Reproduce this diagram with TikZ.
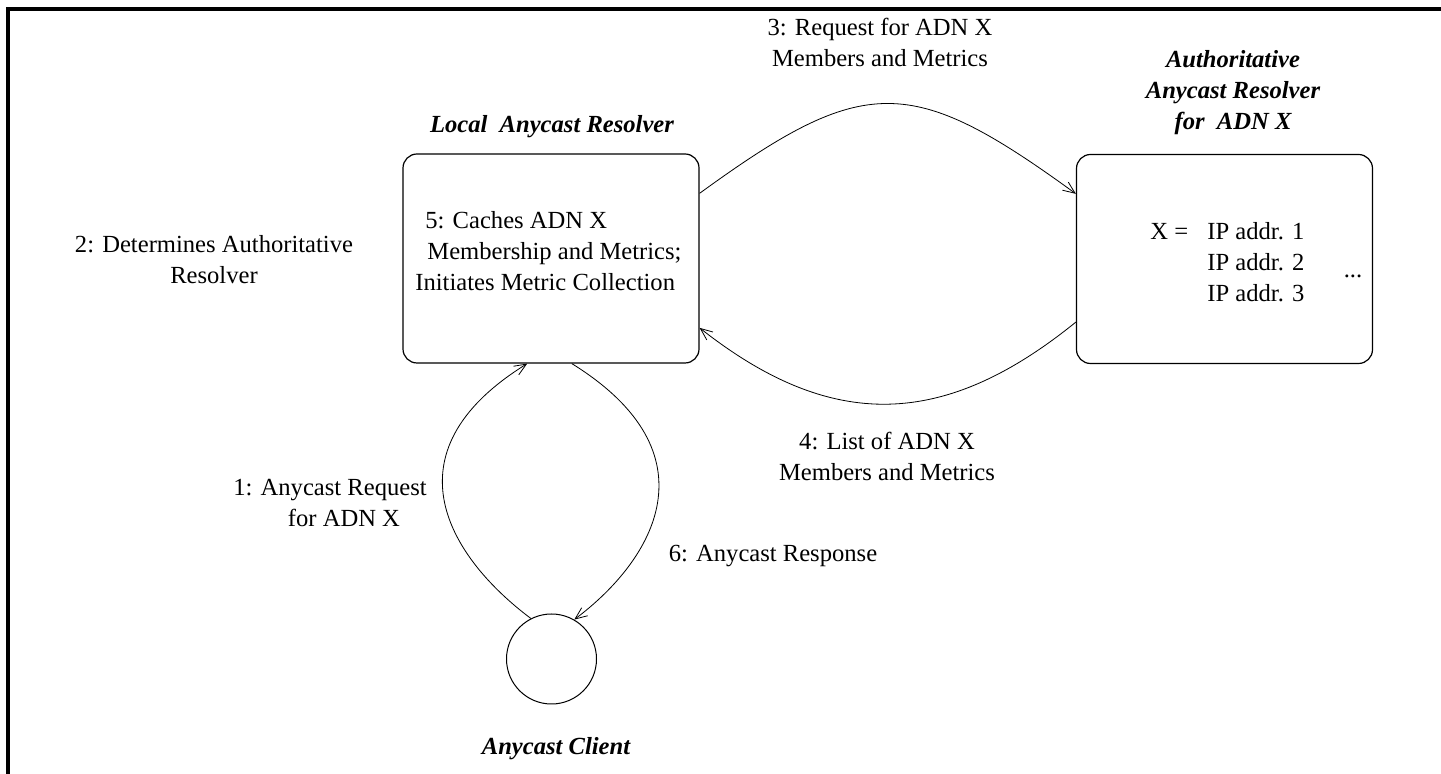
\documentclass[tikz,border=0pt]{standalone}
\usepackage{fontspec}
\setmainfont{Liberation Serif}
\usetikzlibrary{arrows.meta,calc}

\begin{document}
\begin{tikzpicture}[x=0.5pt,y=-0.5pt,
    >={Straight Barb[length=6pt,width=5pt]},
    box/.style={draw,rounded corners=7pt,minimum width=148pt,minimum height=104.5pt,line width=0.6pt},
    lbl/.style={font=\fontsize{12.3}{15.5}\selectfont,align=center,inner sep=0pt},
    ttl/.style={font=\fontsize{12.3}{15.5}\selectfont\bfseries\itshape,align=center,inner sep=0pt}]

        \useasboundingbox (0,0) rectangle (1441,774);
        \draw[line width=2pt] (7.5,774) |- (1441,9);

        % boxes and client
        \node[box] (local) at (551,258.5){};
        \node[box] (auth) at (1224.5,259){};
        \node[draw,circle,minimum size=45pt,line width=0.5pt] (client) at (551.5,659){};

        % titles
        \node[ttl] (localttl) at (552,127){Local\ \ Anycast Resolver};
        \node[ttl] (authttl) at (1233,93){Authoritative\\Anycast Resolver\\for\ \ ADN X};
        \node[ttl] (clientttl) at (556,749){Anycast Client};

        % text inside the boxes
        \node[lbl,align=left,anchor=west] (cache) at (415,251){\hspace*{5pt}5: Caches ADN X\\\hspace*{6pt}Membership and Metrics;\\Initiates Metric Collection};
        \node[lbl,anchor=west] (xeq) at (1150,231){X =};
        \node[lbl,align=left,anchor=west] (iplist) at (1207,262){IP addr. 1\\IP addr. 2\\IP addr. 3};
        \node[lbl] (more) at (1353,276){...};

        % step labels
        \node[lbl] (step1) at (330,503){1: Anycast Request\\\hspace*{14pt}for ADN X};
        \node[lbl] (step2) at (214,260){2: Determines Authoritative\\Resolver};
        \node[lbl] (step3) at (880,42){3: Request for ADN X\\Members and Metrics};
        \node[lbl] (step4) at (887,456){4: List of ADN X\\Members and Metrics};
        \node[lbl] (step6) at (773,556){6: Anycast Response};

        % connectors
        \draw[->] ($(local.north east)!0.19!(local.south east)$) .. controls +(165,-120) and +(-165,-120) .. ($(auth.north west)!0.19!(auth.south west)$);
        \draw[->] ($(auth.north west)!0.8!(auth.south west)$) .. controls +(-132,107) and +(132,104) .. ($(local.north east)!0.83!(local.south east)$);
        \draw[->] (client.117) .. controls +(-80,-60) and +(-145,90) .. ($(local.south west)!0.42!(local.south east)$);
        \draw[->] ($(local.south west)!0.57!(local.south east)$) .. controls +(145,90) and +(80,-60) .. (client.60);

\end{tikzpicture}
\end{document}
